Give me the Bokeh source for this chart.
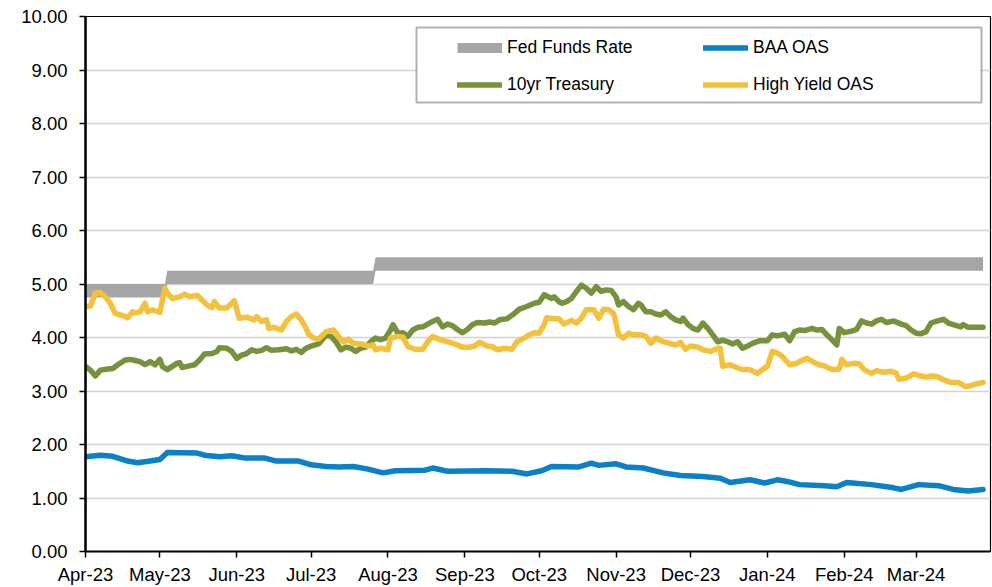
import pandas as pd
from bokeh.plotting import figure
from bokeh.models import (Range1d, FixedTicker, NumeralTickFormatter, DatetimeTickFormatter,
                          Legend, LegendItem, BoxAnnotation)
from bokeh.embed import file_html
from bokeh.resources import INLINE

# ---------------- data ----------------
fed_dates = ["2023-04-01", "2023-05-03", "2023-05-04", "2023-07-26", "2023-07-27", "2024-03-28"]
fed_lower = [4.75, 4.75, 5.00, 5.00, 5.25, 5.25]
fed_upper = [5.00, 5.00, 5.25, 5.25, 5.50, 5.50]

baa_oas = [
    ("2023-04-01", 1.77), ("2023-04-07", 1.80), ("2023-04-12", 1.78), ("2023-04-18", 1.69),
    ("2023-04-22", 1.66), ("2023-04-27", 1.69), ("2023-05-01", 1.72), ("2023-05-04", 1.85),
    ("2023-05-16", 1.84), ("2023-05-19", 1.80), ("2023-05-25", 1.77), ("2023-05-30", 1.79),
    ("2023-06-04", 1.75), ("2023-06-12", 1.75), ("2023-06-17", 1.69), ("2023-06-26", 1.69),
    ("2023-07-01", 1.62), ("2023-07-07", 1.59), ("2023-07-12", 1.58), ("2023-07-18", 1.59),
    ("2023-07-24", 1.54), ("2023-07-30", 1.47), ("2023-08-04", 1.51), ("2023-08-16", 1.52),
    ("2023-08-19", 1.56), ("2023-08-25", 1.50), ("2023-09-10", 1.51), ("2023-09-20", 1.50),
    ("2023-09-26", 1.45), ("2023-10-02", 1.51), ("2023-10-06", 1.59), ("2023-10-17", 1.58),
    ("2023-10-22", 1.65), ("2023-10-25", 1.61), ("2023-11-01", 1.64), ("2023-11-05", 1.58),
    ("2023-11-12", 1.56), ("2023-11-20", 1.47), ("2023-11-27", 1.42), ("2023-12-06", 1.40),
    ("2023-12-13", 1.37), ("2023-12-17", 1.29), ("2023-12-25", 1.34), ("2023-12-31", 1.28),
    ("2024-01-05", 1.34), ("2024-01-09", 1.31), ("2024-01-14", 1.25), ("2024-01-24", 1.23),
    ("2024-01-29", 1.21), ("2024-02-02", 1.29), ("2024-02-12", 1.25), ("2024-02-21", 1.19),
    ("2024-02-24", 1.16), ("2024-03-02", 1.25), ("2024-03-10", 1.23), ("2024-03-16", 1.16),
    ("2024-03-22", 1.13), ("2024-03-28", 1.16),
]

treasury_10yr = [
    ("2023-04-01", 3.46), ("2023-04-03", 3.39), ("2023-04-05", 3.28), ("2023-04-07", 3.39),
    ("2023-04-10", 3.41), ("2023-04-12", 3.42), ("2023-04-14", 3.49), ("2023-04-17", 3.58),
    ("2023-04-19", 3.59), ("2023-04-21", 3.57), ("2023-04-23", 3.55), ("2023-04-25", 3.49),
    ("2023-04-27", 3.55), ("2023-04-28", 3.52), ("2023-04-29", 3.49), ("2023-05-01", 3.59),
    ("2023-05-02", 3.46), ("2023-05-04", 3.40), ("2023-05-06", 3.46), ("2023-05-08", 3.52),
    ("2023-05-09", 3.53), ("2023-05-10", 3.44), ("2023-05-12", 3.46), ("2023-05-15", 3.49),
    ("2023-05-17", 3.58), ("2023-05-19", 3.69), ("2023-05-22", 3.70), ("2023-05-24", 3.74),
    ("2023-05-25", 3.81), ("2023-05-28", 3.80), ("2023-05-30", 3.74), ("2023-06-01", 3.61),
    ("2023-06-03", 3.67), ("2023-06-05", 3.70), ("2023-06-07", 3.77), ("2023-06-09", 3.74),
    ("2023-06-11", 3.76), ("2023-06-13", 3.81), ("2023-06-15", 3.76), ("2023-06-18", 3.77),
    ("2023-06-21", 3.79), ("2023-06-23", 3.75), ("2023-06-25", 3.78), ("2023-06-27", 3.72),
    ("2023-06-29", 3.80), ("2023-07-01", 3.84), ("2023-07-04", 3.88), ("2023-07-07", 4.04),
    ("2023-07-09", 4.02), ("2023-07-11", 3.92), ("2023-07-13", 3.77), ("2023-07-15", 3.82),
    ("2023-07-17", 3.80), ("2023-07-19", 3.74), ("2023-07-21", 3.80), ("2023-07-23", 3.82),
    ("2023-07-25", 3.92), ("2023-07-27", 3.99), ("2023-07-29", 3.96), ("2023-07-31", 3.99),
    ("2023-08-02", 4.14), ("2023-08-03", 4.24), ("2023-08-05", 4.08), ("2023-08-07", 4.09),
    ("2023-08-09", 4.02), ("2023-08-11", 4.14), ("2023-08-13", 4.19), ("2023-08-15", 4.20),
    ("2023-08-17", 4.25), ("2023-08-19", 4.30), ("2023-08-21", 4.34), ("2023-08-23", 4.20),
    ("2023-08-25", 4.25), ("2023-08-27", 4.22), ("2023-08-29", 4.15), ("2023-08-31", 4.09),
    ("2023-09-02", 4.15), ("2023-09-04", 4.24), ("2023-09-06", 4.28), ("2023-09-09", 4.27),
    ("2023-09-11", 4.29), ("2023-09-13", 4.27), ("2023-09-15", 4.33), ("2023-09-18", 4.35),
    ("2023-09-21", 4.45), ("2023-09-23", 4.53), ("2023-09-26", 4.58), ("2023-09-29", 4.64),
    ("2023-10-01", 4.66), ("2023-10-03", 4.80), ("2023-10-06", 4.73), ("2023-10-07", 4.76),
    ("2023-10-09", 4.67), ("2023-10-10", 4.64), ("2023-10-12", 4.67), ("2023-10-14", 4.73),
    ("2023-10-16", 4.86), ("2023-10-18", 4.98), ("2023-10-20", 4.92), ("2023-10-22", 4.83),
    ("2023-10-24", 4.95), ("2023-10-26", 4.86), ("2023-10-28", 4.89), ("2023-10-30", 4.88),
    ("2023-11-01", 4.76), ("2023-11-02", 4.61), ("2023-11-04", 4.67), ("2023-11-06", 4.58),
    ("2023-11-08", 4.52), ("2023-11-10", 4.64), ("2023-11-11", 4.61), ("2023-11-13", 4.48),
    ("2023-11-15", 4.48), ("2023-11-17", 4.44), ("2023-11-19", 4.42), ("2023-11-21", 4.48),
    ("2023-11-23", 4.39), ("2023-11-25", 4.33), ("2023-11-27", 4.30), ("2023-11-28", 4.36),
    ("2023-11-30", 4.24), ("2023-12-02", 4.17), ("2023-12-04", 4.14), ("2023-12-06", 4.27),
    ("2023-12-08", 4.17), ("2023-12-10", 4.05), ("2023-12-12", 3.92), ("2023-12-14", 3.95),
    ("2023-12-16", 3.92), ("2023-12-18", 3.88), ("2023-12-20", 3.92), ("2023-12-22", 3.80),
    ("2023-12-24", 3.84), ("2023-12-26", 3.89), ("2023-12-29", 3.94), ("2024-01-01", 3.94),
    ("2024-01-03", 4.05), ("2024-01-05", 4.03), ("2024-01-08", 4.06), ("2024-01-10", 3.94),
    ("2024-01-12", 4.11), ("2024-01-14", 4.14), ("2024-01-16", 4.13), ("2024-01-19", 4.17),
    ("2024-01-21", 4.14), ("2024-01-23", 4.15), ("2024-01-25", 4.05), ("2024-01-27", 3.96),
    ("2024-01-29", 3.86), ("2024-01-30", 4.17), ("2024-02-01", 4.09), ("2024-02-04", 4.12),
    ("2024-02-06", 4.15), ("2024-02-08", 4.31), ("2024-02-10", 4.27), ("2024-02-12", 4.25),
    ("2024-02-14", 4.31), ("2024-02-16", 4.34), ("2024-02-18", 4.28), ("2024-02-21", 4.31),
    ("2024-02-24", 4.25), ("2024-02-26", 4.22), ("2024-02-28", 4.14), ("2024-03-01", 4.08),
    ("2024-03-03", 4.07), ("2024-03-05", 4.11), ("2024-03-07", 4.27), ("2024-03-09", 4.30),
    ("2024-03-12", 4.34), ("2024-03-14", 4.27), ("2024-03-16", 4.24), ("2024-03-19", 4.20),
    ("2024-03-20", 4.24), ("2024-03-22", 4.19), ("2024-03-28", 4.19),
]

high_yield_oas = [
    ("2023-04-01", 4.58), ("2023-04-03", 4.59), ("2023-04-05", 4.83), ("2023-04-07", 4.84),
    ("2023-04-09", 4.76), ("2023-04-11", 4.64), ("2023-04-13", 4.45), ("2023-04-16", 4.41),
    ("2023-04-18", 4.37), ("2023-04-20", 4.48), ("2023-04-21", 4.46), ("2023-04-23", 4.48),
    ("2023-04-25", 4.64), ("2023-04-26", 4.48), ("2023-04-28", 4.52), ("2023-04-29", 4.50),
    ("2023-05-01", 4.47), ("2023-05-03", 4.92), ("2023-05-04", 4.83), ("2023-05-06", 4.73),
    ("2023-05-09", 4.76), ("2023-05-11", 4.81), ("2023-05-13", 4.76), ("2023-05-16", 4.79),
    ("2023-05-18", 4.70), ("2023-05-20", 4.61), ("2023-05-22", 4.56), ("2023-05-23", 4.67),
    ("2023-05-25", 4.55), ("2023-05-28", 4.55), ("2023-05-31", 4.69), ("2023-06-02", 4.36),
    ("2023-06-05", 4.38), ("2023-06-08", 4.33), ("2023-06-09", 4.39), ("2023-06-11", 4.30),
    ("2023-06-13", 4.33), ("2023-06-14", 4.17), ("2023-06-16", 4.19), ("2023-06-19", 4.14),
    ("2023-06-21", 4.30), ("2023-06-23", 4.39), ("2023-06-25", 4.44), ("2023-06-27", 4.33),
    ("2023-06-29", 4.17), ("2023-06-30", 4.06), ("2023-07-02", 3.99), ("2023-07-04", 3.97),
    ("2023-07-07", 4.11), ("2023-07-10", 4.14), ("2023-07-12", 4.02), ("2023-07-14", 3.92),
    ("2023-07-16", 3.97), ("2023-07-18", 3.89), ("2023-07-21", 3.88), ("2023-07-24", 3.84),
    ("2023-07-26", 3.86), ("2023-07-27", 3.77), ("2023-07-29", 3.80), ("2023-08-01", 3.77),
    ("2023-08-02", 3.99), ("2023-08-05", 4.02), ("2023-08-07", 4.01), ("2023-08-09", 3.83),
    ("2023-08-12", 3.78), ("2023-08-15", 3.78), ("2023-08-17", 3.92), ("2023-08-19", 4.02),
    ("2023-08-22", 3.96), ("2023-08-26", 3.91), ("2023-08-29", 3.86), ("2023-08-31", 3.82),
    ("2023-09-03", 3.82), ("2023-09-05", 3.84), ("2023-09-07", 3.91), ("2023-09-10", 3.84),
    ("2023-09-12", 3.83), ("2023-09-14", 3.77), ("2023-09-17", 3.80), ("2023-09-20", 3.78),
    ("2023-09-22", 3.92), ("2023-09-25", 3.99), ("2023-09-27", 4.05), ("2023-09-29", 4.09),
    ("2023-10-01", 4.08), ("2023-10-03", 4.24), ("2023-10-04", 4.37), ("2023-10-07", 4.35),
    ("2023-10-09", 4.35), ("2023-10-11", 4.25), ("2023-10-14", 4.32), ("2023-10-16", 4.27),
    ("2023-10-18", 4.36), ("2023-10-20", 4.52), ("2023-10-23", 4.52), ("2023-10-25", 4.36),
    ("2023-10-27", 4.53), ("2023-10-29", 4.52), ("2023-10-31", 4.45), ("2023-11-02", 4.05),
    ("2023-11-04", 3.99), ("2023-11-06", 4.08), ("2023-11-08", 4.05), ("2023-11-11", 4.05),
    ("2023-11-13", 4.02), ("2023-11-15", 3.89), ("2023-11-17", 3.99), ("2023-11-19", 3.94),
    ("2023-11-21", 3.91), ("2023-11-25", 3.86), ("2023-11-27", 3.91), ("2023-11-29", 3.78),
    ("2023-12-01", 3.84), ("2023-12-04", 3.82), ("2023-12-06", 3.77), ("2023-12-09", 3.74),
    ("2023-12-12", 3.80), ("2023-12-13", 3.80), ("2023-12-14", 3.46), ("2023-12-17", 3.49),
    ("2023-12-20", 3.43), ("2023-12-22", 3.40), ("2023-12-25", 3.40), ("2023-12-28", 3.33),
    ("2023-12-30", 3.40), ("2024-01-01", 3.46), ("2024-01-03", 3.74), ("2024-01-05", 3.71),
    ("2024-01-07", 3.65), ("2024-01-10", 3.49), ("2024-01-13", 3.52), ("2024-01-14", 3.55),
    ("2024-01-17", 3.61), ("2024-01-20", 3.53), ("2024-01-22", 3.49), ("2024-01-24", 3.47),
    ("2024-01-27", 3.40), ("2024-01-30", 3.41), ("2024-01-31", 3.59), ("2024-02-02", 3.49),
    ("2024-02-05", 3.52), ("2024-02-07", 3.51), ("2024-02-09", 3.40), ("2024-02-12", 3.33),
    ("2024-02-14", 3.38), ("2024-02-17", 3.35), ("2024-02-20", 3.37), ("2024-02-22", 3.33),
    ("2024-02-23", 3.22), ("2024-02-26", 3.24), ("2024-02-29", 3.32), ("2024-03-03", 3.28),
    ("2024-03-05", 3.26), ("2024-03-07", 3.28), ("2024-03-10", 3.26), ("2024-03-12", 3.21),
    ("2024-03-15", 3.16), ("2024-03-18", 3.16), ("2024-03-21", 3.08), ("2024-03-23", 3.10),
    ("2024-03-25", 3.13), ("2024-03-28", 3.16),
]

month_ticks = ["2023-04-01", "2023-05-01", "2023-06-01", "2023-07-01", "2023-08-01", "2023-09-01",
               "2023-10-01", "2023-11-01", "2023-12-01", "2024-01-01", "2024-02-01", "2024-03-01"]
y_ticks = [0, 1, 2, 3, 4, 5, 6, 7, 8, 9, 10]
x_start, x_end = "2023-04-01", "2024-03-31"

# ---------------- helpers ----------------
def split(series):
    return pd.to_datetime([d for d, _ in series]), [v for _, v in series]

FONT = "Liberation Sans"
GREY = "#A6A6A6"
BLUE = "#0A80C6"
GREEN = "#76923C"
YELLOW = "#F4C13D"

p = figure(width=992, height=587, output_backend="svg", toolbar_location=None,
           x_axis_type="datetime",
           x_range=Range1d(pd.Timestamp(x_start), pd.Timestamp(x_end)),
           y_range=Range1d(0, 10),
           min_border_left=85, min_border_right=2, min_border_top=16, min_border_bottom=35)
p.background_fill_color = "white"
p.border_fill_color = "white"
p.outline_line_color = "black"
p.outline_line_width = 1.2

# Fed funds band
fd = pd.to_datetime(fed_dates)
p.varea(x=fd, y1=fed_lower, y2=fed_upper, fill_color=GREY)
fed_mid = [(a + b) / 2 for a, b in zip(fed_lower, fed_upper)]
fed_leg = p.line(x=fd, y=fed_mid, line_color=GREY, line_width=10, line_cap="butt")
fed_leg.visible = False

LW = 5.5
bx, bv = split(baa_oas)
baa_r = p.line(bx, bv, line_color=BLUE, line_width=LW, line_join="round", line_cap="round")
tx, tv = split(treasury_10yr)
ust_r = p.line(tx, tv, line_color=GREEN, line_width=LW, line_join="round", line_cap="round")
hx, hv = split(high_yield_oas)
hy_r = p.line(hx, hv, line_color=YELLOW, line_width=LW, line_join="round", line_cap="round")

# axes
p.xaxis.ticker = FixedTicker(ticks=[pd.Timestamp(t).value / 1e6 for t in month_ticks])
p.xaxis.formatter = DatetimeTickFormatter(days="%b-%y", months="%b-%y", years="%b-%y")
p.yaxis.ticker = FixedTicker(ticks=y_ticks)
p.yaxis.formatter = NumeralTickFormatter(format="0.00")
for ax in (p.xaxis[0], p.yaxis[0]):
    ax.axis_line_color = "black"
    ax.major_tick_line_color = "black"
    ax.major_tick_line_width = 1.5
    ax.major_tick_in = 0
    ax.minor_tick_line_color = None
    ax.major_label_text_font = FONT
    ax.major_label_text_font_size = "18.5px"
    ax.major_label_text_color = "black"
p.yaxis.axis_line_width = 2.5
p.xaxis.axis_line_width = 2
p.yaxis.major_tick_out = 6
p.yaxis.major_label_standoff = 12
p.xaxis.major_tick_out = 6
p.xaxis.major_label_standoff = 6

p.xgrid.grid_line_color = None
p.ygrid.grid_line_color = "#D4D4D4"
p.ygrid.grid_line_width = 1.5

# legend frame
box = BoxAnnotation(left=416, right=981, top=27, bottom=102,
                    left_units="canvas", right_units="canvas", top_units="canvas", bottom_units="canvas",
                    fill_color="white", fill_alpha=1.0, line_color="black", line_width=2)
p.add_layout(box)

legend = Legend(items=[LegendItem(label="Fed Funds Rate", renderers=[fed_leg]),
                       LegendItem(label="BAA OAS", renderers=[baa_r]),
                       LegendItem(label="10yr Treasury", renderers=[ust_r]),
                       LegendItem(label="High Yield OAS", renderers=[hy_r])],
                orientation="horizontal", ncols=2, location=(372, 452),
                glyph_width=45, glyph_height=29, label_height=29, label_width=188,
                label_standoff=5, spacing=8, padding=0, margin=0,
                border_line_color=None, background_fill_alpha=0,
                label_text_font=FONT, label_text_font_size="17.5px", label_text_color="black")
p.add_layout(legend, "center")

open("out.html", "w").write(file_html(p, INLINE))
